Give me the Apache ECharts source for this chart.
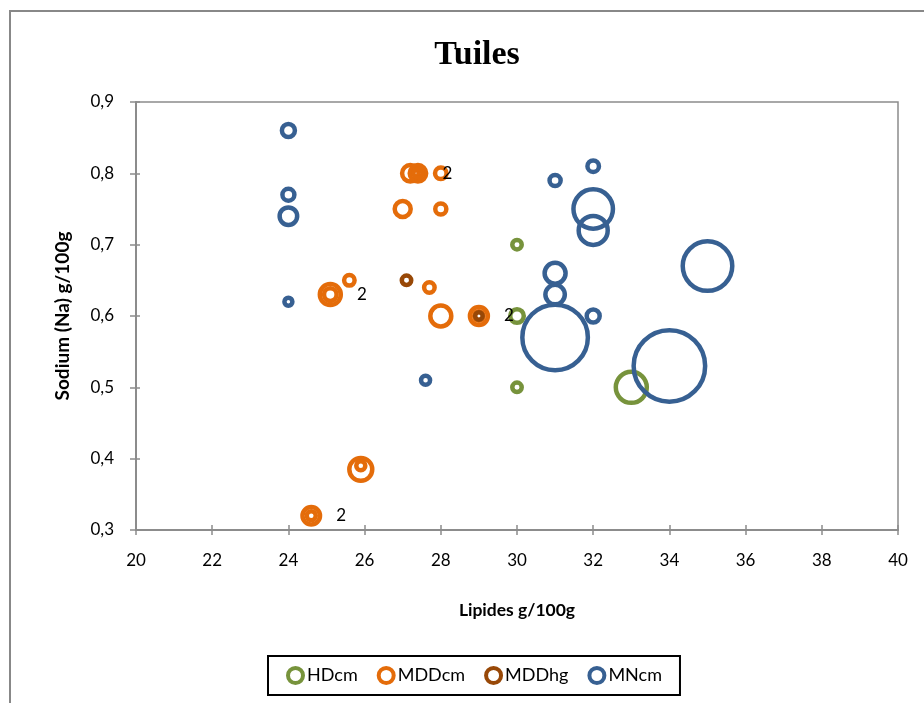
<!DOCTYPE html>
<html>
<head>
<meta charset="utf-8">
<title>Tuiles</title>
<script src="https://cdn.jsdelivr.net/npm/echarts@6/dist/echarts.min.js"></script>
<style>
	html, body { margin: 0; padding: 0; background: #fff; }
	#main { width: 924px; height: 703px; }
</style>
</head>
<body>
<div id="main"></div>
<script>
// données : [lipides, sodium, taille de bulle]
var seriesNames = ['HDcm', 'MDDcm', 'MDDhg', 'MNcm'];
var seriesColors = ['#77933C', '#E46C0A', '#984807', '#376092'];

var hdcm = [
	[30, 0.7, 1.75], [30, 0.6, 3.6], [30, 0.5, 1.75], [33, 0.5, 18.8]
];
var mddcm = [
	[27.2, 0.8, 5.3], [27.4, 0.8, 5.3], [27.4, 0.8, 1.6], [28, 0.8, 2.6],
	[27, 0.75, 5], [28, 0.75, 2.4],
	[25.1, 0.63, 8.6], [25.1, 0.63, 3.1], [25.6, 0.65, 2.15], [27.7, 0.64, 2.15],
	[28, 0.6, 8.6], [29, 0.6, 6.3], [29, 0.6, 1.75],
	[25.9, 0.385, 10.3], [25.9, 0.39, 1.6],
	[24.6, 0.32, 6], [24.6, 0.32, 1.6]
];
var mddhg = [
	[27.1, 0.65, 1.75], [29, 0.6, 1.1]
];
var mncm = [
	[24, 0.86, 3.3], [24, 0.77, 2.8], [24, 0.74, 6], [24, 0.62, 1.25],
	[27.6, 0.51, 1.6], [31, 0.79, 2.4], [32, 0.81, 2.6], [32, 0.75, 30.5],
	[32, 0.72, 16.5], [31, 0.66, 8.6], [31, 0.63, 7.4], [32, 0.6, 3.3],
	[31, 0.57, 84], [35, 0.67, 48], [34, 0.53, 100]
];
// étiquettes "2" (index du point dans MDDcm)
var mddcmLabels = { 1: '2', 6: '2', 11: '2', 15: '2' };

var xTicks = { min: 20, max: 40, interval: 2 };
var yTicks = { min: 0.3, max: 0.9, interval: 0.1 };

var allData = [hdcm, mddcm, mddhg, mncm];
var labelMaps = [{}, mddcmLabels, {}, {}];

var font = 'Lato, "Open Sans", sans-serif';
var axisGray = '#8c8c8c';

var myChart = echarts.init(document.getElementById('main'));

var series = [];
for (var i = 0; i < allData.length; i++) {
	var rows = [];
	for (var j = 0; j < allData[i].length; j++) {
		var item = { value: allData[i][j] };
		if (labelMaps[i][j]) {
			item.label = {
				show: true,
				position: 'right',
				distance: 14,
				formatter: labelMaps[i][j],
				color: '#000',
				fontFamily: font,
				fontSize: 17
			};
		}
		rows.push(item);
	}
	series.push({
		name: seriesNames[i],
		type: 'scatter',
		xAxisIndex: 0,
		yAxisIndex: 0,
		symbol: 'circle',
		symbolSize: function (val) {
			return 7.15 * Math.sqrt(val[2]);
		},
		itemStyle: {
			color: 'rgba(255,255,255,0)',
			borderColor: seriesColors[i],
			borderWidth: 4.5,
			opacity: 1
		},
		emphasis: { disabled: true },
		data: rows
	});
}

var option = {
	animation: false,
	backgroundColor: '#fff',
	title: {
		text: 'Tuiles',
		left: 472,
		textAlign: 'center',
		top: 33,
		textStyle: {
			fontFamily: '"Liberation Serif", serif',
			fontWeight: 'bold',
			fontSize: 34,
			color: '#000'
		}
	},
	graphic: [{
		type: 'rect',
		shape: { x: 10, y: 11, width: 1000, height: 1000 },
		style: { fill: 'none', stroke: '#888', lineWidth: 2 },
		silent: true
	}],
	legend: {
		bottom: 8,
		left: 268,
		data: seriesNames.map(function (n, k) {
			return {
				name: n,
				icon: 'circle',
				itemStyle: { color: '#fff', borderColor: seriesColors[k], borderWidth: 4 }
			};
		}),
		itemWidth: 15,
		itemHeight: 15,
		itemGap: 19,
		padding: [10, 18, 10, 18],
		borderColor: '#000',
		borderWidth: 2,
		textStyle: { fontFamily: font, fontSize: 18, color: '#000', padding: [0, 0, 0, -1] }
	},
	grid: {
		left: 136,
		top: 102,
		right: 26,
		bottom: 173,
		show: true,
		borderColor: axisGray,
		borderWidth: 1.5
	},
	xAxis: [{
		type: 'value',
		min: xTicks.min,
		max: xTicks.max,
		interval: xTicks.interval,
		name: 'Lipides g/100g',
		nameLocation: 'middle',
		nameGap: 71,
		nameTextStyle: { fontFamily: font, fontSize: 17.5, fontWeight: 'bold', color: '#000' },
		axisLine: { show: true, lineStyle: { color: axisGray, width: 2 } },
		axisTick: { show: true, length: 5, lineStyle: { color: axisGray, width: 1.5 } },
		splitLine: { show: false },
		axisLabel: { margin: 22, fontFamily: font, fontSize: 17, color: '#000' }
	}, {
		type: 'value',
		position: 'bottom',
		min: xTicks.min,
		max: xTicks.max,
		interval: xTicks.interval,
		axisLine: { show: false },
		axisTick: { show: true, inside: true, length: 5, lineStyle: { color: axisGray, width: 1.5 } },
		splitLine: { show: false },
		axisLabel: { show: false }
	}],
	yAxis: [{
		type: 'value',
		min: yTicks.min,
		max: yTicks.max,
		interval: yTicks.interval,
		name: 'Sodium (Na) g/100g',
		nameLocation: 'middle',
		nameGap: 64,
		nameRotate: 90,
		nameTextStyle: { fontFamily: font, fontSize: 19, fontWeight: 'bold', color: '#000' },
		axisLine: { show: true, lineStyle: { color: axisGray, width: 2 } },
		axisTick: { show: true, length: 6, lineStyle: { color: axisGray, width: 1.5 } },
		splitLine: { show: false },
		axisLabel: {
			margin: 22,
			fontFamily: font,
			fontSize: 17,
			color: '#000',
			formatter: function (v) { return v.toFixed(1).replace('.', ','); }
		}
	}, {
		type: 'value',
		position: 'left',
		min: yTicks.min,
		max: yTicks.max,
		interval: yTicks.interval,
		axisLine: { show: false },
		axisTick: { show: true, inside: true, length: 4, lineStyle: { color: axisGray, width: 1.5 } },
		splitLine: { show: false },
		axisLabel: { show: false }
	}],
	series: series
};

myChart.setOption(option);
</script>
</body>
</html>
